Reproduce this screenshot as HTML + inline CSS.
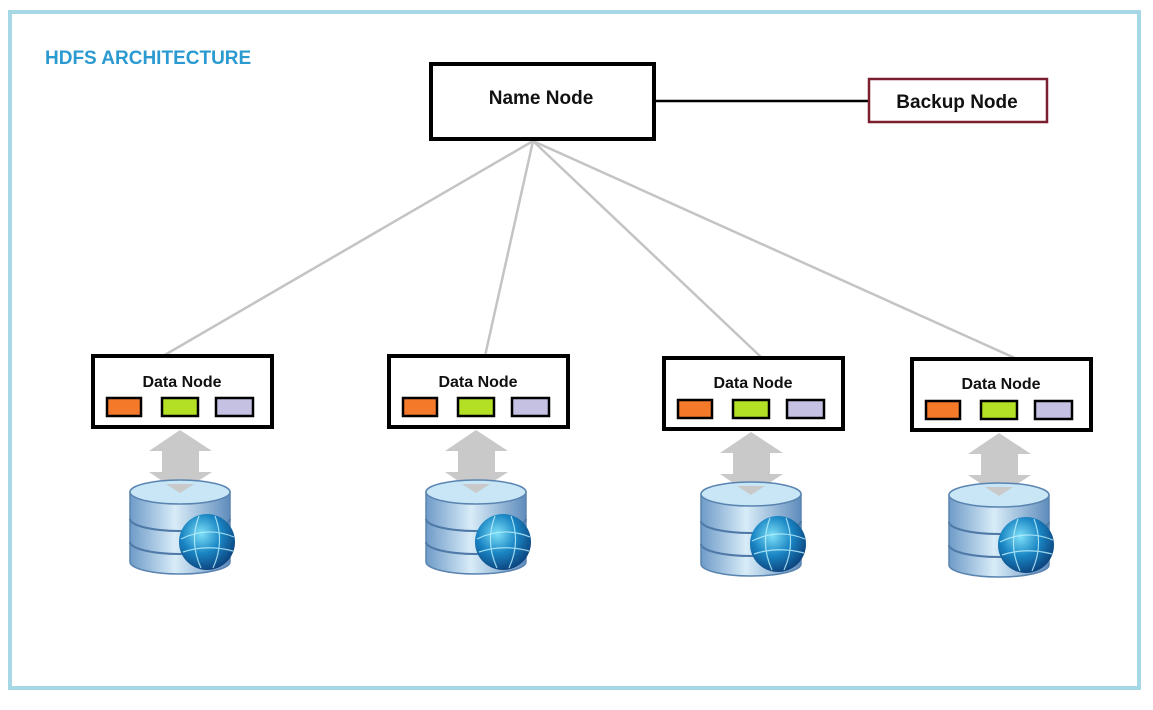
<!DOCTYPE html>
<html><head><meta charset="utf-8"><style>
html,body{margin:0;padding:0;background:#fff;width:1153px;height:710px;overflow:hidden}
text{font-family:"Liberation Sans",sans-serif;font-weight:bold}
</style></head><body>
<svg width="1153" height="710" viewBox="0 0 1153 710" xmlns="http://www.w3.org/2000/svg">
<defs>
<linearGradient id="cyl" x1="0" x2="1" y1="0" y2="0">
<stop offset="0" stop-color="#6f9bc8"/><stop offset="0.45" stop-color="#d8ecf8"/><stop offset="1" stop-color="#5f8cbc"/>
</linearGradient>
<radialGradient id="globe" cx="0.4" cy="0.35" r="0.7">
<stop offset="0" stop-color="#7fe0f8"/><stop offset="0.5" stop-color="#1a86c4"/><stop offset="1" stop-color="#0b3e78"/>
</radialGradient>
<g id="dn">
<rect x="2" y="2" width="179" height="71" fill="#fff" stroke="#000" stroke-width="4"/>
<rect x="16" y="44" width="34" height="18" fill="#f47a2a" stroke="#000" stroke-width="2.5"/>
<rect x="71" y="44" width="36" height="18" fill="#b3e024" stroke="#000" stroke-width="2.5"/>
<rect x="125" y="44" width="37" height="18" fill="#c4c1e2" stroke="#000" stroke-width="2.5"/>
<polygon points="58,97 89,76 121,97 108,97 108,118 121,118 89,139 58,118 71,118 71,97" fill="#c9c9c9"/>
<path d="M39,138 L39,208 A50,12 0 0 0 139,208 L139,138 Z" fill="url(#cyl)" stroke="#5a84b0" stroke-width="1.5"/>
<path d="M39,165 A50,12 0 0 0 139,165 M39,188 A50,12 0 0 0 139,188" fill="none" stroke="#4f79a6" stroke-width="2"/>
<ellipse cx="89" cy="138" rx="50" ry="12" fill="#c8e6f6" stroke="#5a84b0" stroke-width="1.5"/>
<polygon points="75,130 89,139 103,130" fill="#c9c9c9"/>
<circle cx="116" cy="188" r="28" fill="url(#globe)"/>
<path d="M90,185 Q116,172 143,183 M92,198 Q116,190 142,197 M108,162 Q98,188 110,214 M124,162 Q134,188 122,214" fill="none" stroke="#bff2ff" stroke-width="1.2" opacity="0.8"/>
</g>
</defs>
<rect x="10" y="12" width="1129" height="676" fill="none" stroke="#a6d7e4" stroke-width="4"/>
<text x="45" y="64" font-size="19" fill="#2b9ad1">HDFS ARCHITECTURE</text>
<g stroke="#c4c4c4" stroke-width="2.5" fill="none">
<line x1="533" y1="141" x2="163" y2="356"/>
<line x1="533" y1="141" x2="485" y2="356"/>
<line x1="533" y1="141" x2="762" y2="358"/>
<line x1="533" y1="141" x2="1017" y2="359"/>
</g>
<line x1="655" y1="101" x2="869" y2="101" stroke="#000" stroke-width="2.5"/>
<rect x="431" y="64" width="223" height="75" fill="#fff" stroke="#000" stroke-width="4"/>
<text x="541" y="104" font-size="19" text-anchor="middle" fill="#111">Name Node</text>
<rect x="869" y="79" width="178" height="43" fill="#fff" stroke="#7b1f2e" stroke-width="2.5"/>
<text x="957" y="108" font-size="19" text-anchor="middle" fill="#111">Backup Node</text>
<use href="#dn" x="91" y="354"/>
<use href="#dn" x="387" y="354"/>
<use href="#dn" x="662" y="356"/>
<use href="#dn" x="910" y="357"/>
<g font-size="16" text-anchor="middle" fill="#111">
<text x="182" y="387">Data Node</text>
<text x="478" y="387">Data Node</text>
<text x="753" y="388">Data Node</text>
<text x="1001" y="389">Data Node</text>
</g>
</svg>
</body></html>
